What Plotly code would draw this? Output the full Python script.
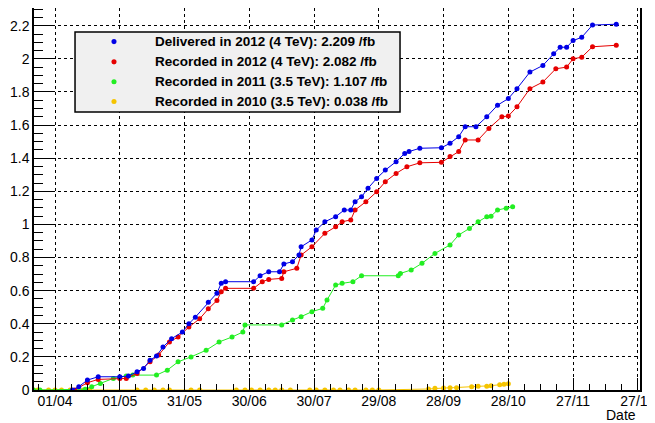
import plotly.graph_objects as go

# integrated luminosity per year, plotted against day of year (values in /fb)
delivered_2012_dates = [
    "2012-04-09", "2012-04-12", "2012-04-16", "2012-04-21", "2012-05-01", "2012-05-05",
    "2012-05-09", "2012-05-12", "2012-05-15", "2012-05-18", "2012-05-21", "2012-05-25",
    "2012-05-30", "2012-06-02", "2012-06-05", "2012-06-11", "2012-06-15", "2012-06-17",
    "2012-06-19", "2012-07-02", "2012-07-05", "2012-07-09", "2012-07-14", "2012-07-16",
    "2012-07-20", "2012-07-23", "2012-07-24", "2012-07-29", "2012-07-31", "2012-08-04",
    "2012-08-09", "2012-08-13", "2012-08-16", "2012-08-18", "2012-08-21", "2012-08-24",
    "2012-08-28", "2012-09-01", "2012-09-06", "2012-09-10", "2012-09-12", "2012-09-17",
    "2012-09-27", "2012-10-01", "2012-10-05", "2012-10-08", "2012-10-13", "2012-10-18",
    "2012-10-23", "2012-10-28", "2012-11-01", "2012-11-07", "2012-11-13", "2012-11-18",
    "2012-11-21", "2012-11-24", "2012-11-27", "2012-12-01", "2012-12-06", "2012-12-17",
]
delivered_2012 = [
    0.0, 0.02, 0.06, 0.08, 0.08, 0.085,
    0.11, 0.13, 0.18, 0.205, 0.26, 0.31,
    0.35, 0.40, 0.44, 0.53, 0.585, 0.645,
    0.654, 0.654, 0.69, 0.714, 0.714, 0.761,
    0.775, 0.815, 0.865, 0.906, 0.966, 1.016,
    1.047, 1.087, 1.087, 1.137, 1.167, 1.218,
    1.278, 1.328, 1.379, 1.429, 1.44, 1.46,
    1.463, 1.49, 1.53, 1.59, 1.59, 1.65,
    1.72, 1.76, 1.82, 1.92, 1.96, 2.03,
    2.07, 2.07, 2.11, 2.13, 2.204, 2.209,
]

recorded_2012_dates = [
    "2012-04-10", "2012-04-16", "2012-04-21", "2012-05-01", "2012-05-04", "2012-05-09",
    "2012-05-15", "2012-05-19", "2012-05-24", "2012-05-28", "2012-06-02", "2012-06-07",
    "2012-06-11", "2012-06-15", "2012-06-17", "2012-06-19", "2012-07-02", "2012-07-06",
    "2012-07-09", "2012-07-15", "2012-07-16", "2012-07-22", "2012-07-24", "2012-07-29",
    "2012-08-04", "2012-08-09", "2012-08-12", "2012-08-16", "2012-08-18", "2012-08-23",
    "2012-08-28", "2012-09-01", "2012-09-06", "2012-09-11", "2012-09-17", "2012-09-27",
    "2012-10-01", "2012-10-05", "2012-10-08", "2012-10-14", "2012-10-19", "2012-10-25",
    "2012-10-28", "2012-11-01", "2012-11-07", "2012-11-13", "2012-11-19", "2012-11-24",
    "2012-11-27", "2012-12-01", "2012-12-06", "2012-12-17",
]
recorded_2012 = [
    0.0, 0.044, 0.064, 0.07, 0.07, 0.10,
    0.171, 0.211, 0.29, 0.32, 0.38, 0.43,
    0.49, 0.54, 0.594, 0.614, 0.614, 0.654,
    0.668, 0.674, 0.714, 0.735, 0.815, 0.865,
    0.946, 0.986, 1.016, 1.027, 1.087, 1.137,
    1.197, 1.258, 1.308, 1.348, 1.372, 1.375,
    1.41, 1.44, 1.51, 1.51, 1.58, 1.65,
    1.655, 1.71, 1.82, 1.86, 1.94, 1.95,
    2.00, 2.01, 2.073, 2.082,
]

recorded_2011_dates = [
    "2012-03-22", "2012-03-25", "2012-04-15", "2012-04-18", "2012-04-22", "2012-04-28",
    "2012-05-04", "2012-05-07", "2012-05-18", "2012-05-23", "2012-05-28", "2012-06-03",
    "2012-06-10", "2012-06-16", "2012-06-22", "2012-06-27", "2012-06-28", "2012-07-15",
    "2012-07-20", "2012-07-24", "2012-07-29", "2012-08-03", "2012-08-05", "2012-08-09",
    "2012-08-12", "2012-08-17", "2012-08-21", "2012-09-07", "2012-09-08", "2012-09-13",
    "2012-09-18", "2012-09-24", "2012-10-01", "2012-10-05", "2012-10-10", "2012-10-14",
    "2012-10-18", "2012-10-20", "2012-10-23", "2012-10-27", "2012-10-30",
]
recorded_2011 = [
    0.0, 0.0, 0.005, 0.02, 0.04, 0.07,
    0.085, 0.09, 0.09, 0.12, 0.17, 0.20,
    0.24, 0.29, 0.32, 0.35, 0.393, 0.393,
    0.423, 0.443, 0.473, 0.493, 0.543, 0.634,
    0.644, 0.654, 0.69, 0.69, 0.704, 0.725,
    0.765, 0.825, 0.876, 0.936, 0.976, 1.016,
    1.047, 1.05, 1.087, 1.097, 1.107,
]

recorded_2010_dates = [
    "2012-03-22", "2012-03-24", "2012-03-29", "2012-04-01", "2012-04-04", "2012-04-08",
    "2012-04-11", "2012-04-14", "2012-04-17", "2012-05-09", "2012-05-13", "2012-05-17",
    "2012-05-21", "2012-05-24", "2012-06-03", "2012-06-07", "2012-06-24", "2012-06-28",
    "2012-07-01", "2012-07-05", "2012-07-09", "2012-07-12", "2012-07-15", "2012-07-19",
    "2012-07-28", "2012-07-31", "2012-08-04", "2012-08-08", "2012-08-11", "2012-08-15",
    "2012-08-18", "2012-08-23", "2012-08-26", "2012-08-29", "2012-09-21", "2012-09-24",
    "2012-09-28", "2012-10-01", "2012-10-04", "2012-10-11", "2012-10-14", "2012-10-18",
    "2012-10-20", "2012-10-24", "2012-10-26", "2012-10-28",
]
recorded_2010 = [
    0.0, 0.0, 0.0, 0.0, 0.0, 0.0,
    0.0, 0.0, 0.0, 0.0, 0.0, 0.0,
    0.0, 0.0, 0.0, 0.0, 0.0, 0.0,
    0.0, 0.0, 0.0, 0.0, 0.0, 0.0,
    0.0, 0.0, 0.0, 0.0, 0.0, 0.0,
    0.0, 0.0, 0.0, 0.0, 0.006, 0.01,
    0.012, 0.013, 0.014, 0.02, 0.022, 0.023,
    0.026, 0.032, 0.035, 0.038,
]

series = [
    ("Delivered in 2012 (4 TeV): 2.209 /fb", delivered_2012_dates, delivered_2012, "#0000e6"),
    ("Recorded in 2012 (4 TeV): 2.082 /fb", recorded_2012_dates, recorded_2012, "#e60000"),
    ("Recorded in 2011 (3.5 TeV): 1.107 /fb", recorded_2011_dates, recorded_2011, "#22ee22"),
    ("Recorded in 2010 (3.5 TeV): 0.038 /fb", recorded_2010_dates, recorded_2010, "#f5c400"),
]

FONT = "Liberation Sans, Arial, Helvetica"

fig = go.Figure()

# draw oldest first so 2012 ends up on top
for name, dates, lumi, color in reversed(series):
    fig.add_trace(go.Scatter(
        x=dates, y=lumi, mode="lines+markers", name=name, showlegend=False,
        line=dict(color=color, width=1),
        marker=dict(color=color, size=5),
    ))

day_ms = 86400000
fig.update_xaxes(
    type="date", automargin=False,
    range=["2012-03-22 06:00", "2012-12-28 00:00"],
    tick0="2012-04-01", dtick=30 * day_ms, tickformat="%d/%m",
    ticks="inside", ticklen=12, tickcolor="black", ticklabelstandoff=-3,
    ticklabeloverflow="allow",
    minor=dict(ticks="inside", ticklen=6, dtick=7.5 * day_ms, tick0="2012-04-01", tickcolor="black"),
    showgrid=True, gridcolor="black", griddash="dot", gridwidth=1,
    showline=True, linecolor="black", linewidth=1.5, mirror=True,
    zeroline=False,
    tickfont=dict(family=FONT, size=14, color="black"),
)
fig.update_yaxes(
    automargin=False,
    range=[0, 2.307], dtick=0.2, tick0=0,
    ticks="inside", ticklen=18, tickcolor="black",
    minor=dict(ticks="inside", ticklen=9, dtick=0.05, tickcolor="black"),
    showgrid=True, gridcolor="black", griddash="dot", gridwidth=1,
    showline=True, linecolor="black", linewidth=1.5, mirror=True,
    zeroline=False,
    tickfont=dict(family=FONT, size=14, color="black"),
)

# ROOT-style legend box drawn by hand (marker dot + bold label)
fig.add_shape(type="rect", xref="paper", yref="paper",
              x0=0.0677, x1=0.604, y0=0.728, y1=0.937,
              fillcolor="#f0f0f0", line=dict(color="black", width=1.5), layer="above")
legend_rows = [0.912, 0.859, 0.807, 0.755]
for (name, dates, lumi, color), ry in zip(series, legend_rows):
    fig.add_shape(type="circle", xref="paper", yref="paper",
                  x0=0.132 - 0.0042, x1=0.132 + 0.0042, y0=ry - 0.0066, y1=ry + 0.0066,
                  fillcolor=color, line=dict(color=color, width=0), layer="above")
    fig.add_annotation(text="<b>%s</b>" % name, xref="paper", yref="paper",
                       x=0.196, y=ry, xanchor="left", yanchor="middle", showarrow=False,
                       font=dict(family=FONT, size=13.5, color="black"))

fig.add_annotation(
    text="Date", xref="paper", yref="paper", x=0.997, y=-0.065,
    xanchor="right", yanchor="middle", showarrow=False,
    font=dict(family=FONT, size=14, color="black"),
)

# the page body adds an 8px offset, so the figure is sized to end at the window edge
fig.update_layout(
    width=647, height=415,
    margin=dict(l=26, r=15, t=0, b=33),
    paper_bgcolor="white", plot_bgcolor="white",
    showlegend=False,
)

# no scrollbars eating into the window
fig.write_html(
    "out.html",
    post_script="document.documentElement.style.overflow='hidden';document.body.style.overflow='hidden';",
)
